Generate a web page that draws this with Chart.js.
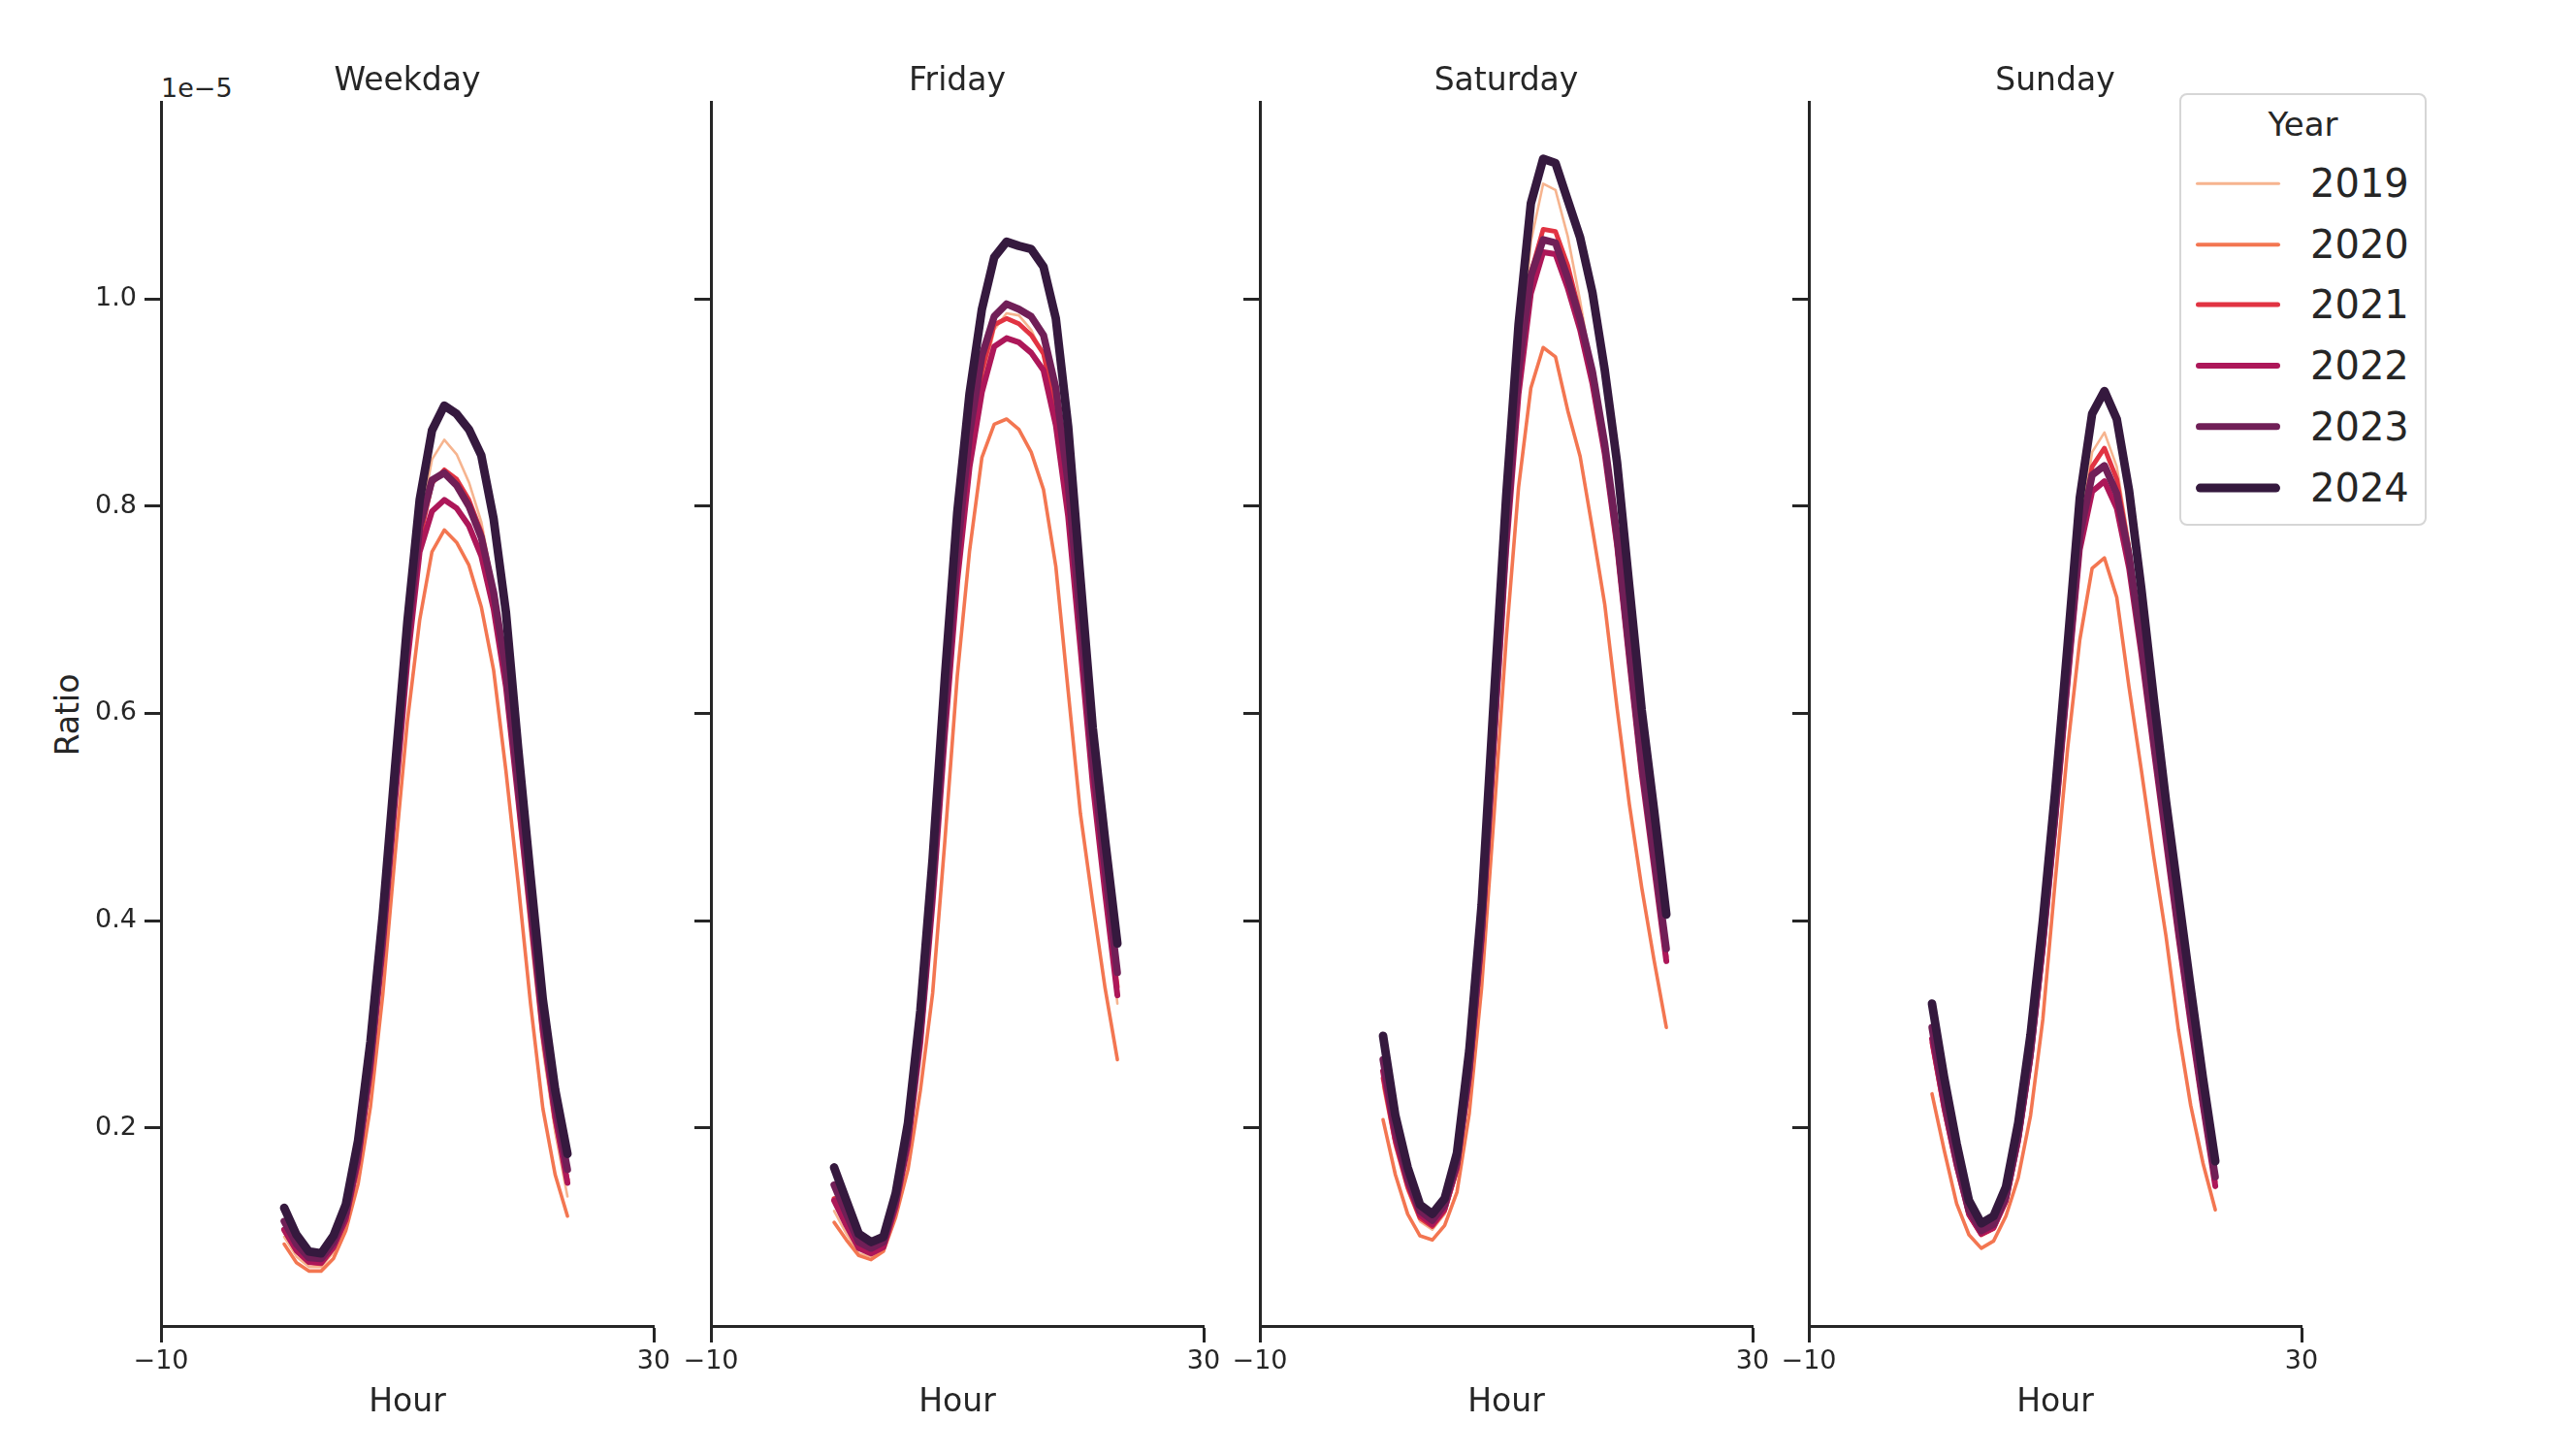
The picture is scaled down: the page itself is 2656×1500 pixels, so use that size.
<!DOCTYPE html>
<html lang="en">
<head>
    <meta charset="UTF-8">
    <title>Ratio by Hour and Year</title>
    <script src="https://cdn.jsdelivr.net/npm/chart.js"></script>
    <style>
        body { margin: 0; background: #fff; }
        #wrap { position: relative; width: 2656px; height: 1500px; font-family: 'DejaVu Sans', sans-serif; color: #262626; }
        #wrap canvas { position: absolute; left: 0; top: 0; }
        .txt { position: absolute; white-space: nowrap; line-height: 1; }
        .title, .xlabel { font-size: 33px; transform: translate(-50%, -50%); }
        #ylabel { font-size: 33px; left: 69px; top: 737px; transform: translate(-50%, -50%) rotate(-90deg); }
        #offset { font-size: 27px; left: 166px; top: 90px; transform: translateY(-50%); }
        #legend { position: absolute; left: 2247px; top: 96px; width: 251px; height: 442px; border: 2.5px solid #d6d6d6; border-radius: 8px; background: #fff; }
        #legend .head { position: absolute; left: 0; width: 100%; top: 13px; text-align: center; font-size: 34px; line-height: 1; }
        #legend .row { position: absolute; left: 0; width: 100%; height: 0; }
        #legend .sample { position: absolute; left: 15px; width: 87px; border-radius: 6px; transform: translateY(-50%); }
        #legend .lab { position: absolute; left: 133px; font-size: 40px; transform: translateY(-50%); line-height: 1; }
    </style>
</head>
<body>
<div id="wrap">
    <div id="ylabel" class="txt">Ratio</div>
    <div id="offset" class="txt">1e&minus;5</div>
    <div id="legend"><div class="head">Year</div></div>
</div>

<script>
    // hours of the day
    const hours = [0, 1, 2, 3, 4, 5, 6, 7, 8, 9, 10, 11, 12, 13, 14, 15, 16, 17, 18, 19, 20, 21, 22, 23];
    const years = ['2019', '2020', '2021', '2022', '2023', '2024'];
    const panels = ['Weekday', 'Friday', 'Saturday', 'Sunday'];

    // ratio values (x 1e-5), one row per year 2019..2024
    const weekday = [
        [0.095, 0.076, 0.066, 0.066, 0.080, 0.107, 0.160, 0.246, 0.366, 0.512, 0.655, 0.782, 0.845, 0.864, 0.850, 0.823, 0.785, 0.722, 0.632, 0.505, 0.385, 0.276, 0.196, 0.134],
        [0.088, 0.070, 0.062, 0.062, 0.074, 0.101, 0.146, 0.220, 0.328, 0.463, 0.592, 0.690, 0.756, 0.777, 0.765, 0.743, 0.703, 0.642, 0.545, 0.436, 0.320, 0.219, 0.155, 0.115],
        [0.101, 0.081, 0.070, 0.069, 0.084, 0.111, 0.166, 0.254, 0.373, 0.518, 0.657, 0.768, 0.822, 0.835, 0.826, 0.806, 0.775, 0.718, 0.636, 0.522, 0.405, 0.291, 0.208, 0.150],
        [0.102, 0.082, 0.071, 0.070, 0.085, 0.112, 0.168, 0.256, 0.373, 0.515, 0.650, 0.756, 0.795, 0.806, 0.798, 0.781, 0.752, 0.701, 0.626, 0.517, 0.406, 0.293, 0.211, 0.147],
        [0.110, 0.088, 0.075, 0.074, 0.090, 0.118, 0.176, 0.266, 0.386, 0.531, 0.670, 0.780, 0.825, 0.832, 0.820, 0.800, 0.770, 0.717, 0.642, 0.532, 0.421, 0.306, 0.223, 0.160],
        [0.123, 0.097, 0.081, 0.079, 0.096, 0.126, 0.188, 0.283, 0.405, 0.548, 0.688, 0.806, 0.873, 0.897, 0.889, 0.874, 0.849, 0.788, 0.698, 0.566, 0.443, 0.324, 0.237, 0.175]
    ];
    const friday = [
        [0.120, 0.098, 0.079, 0.076, 0.083, 0.121, 0.179, 0.275, 0.408, 0.570, 0.722, 0.840, 0.918, 0.970, 0.986, 0.984, 0.970, 0.945, 0.887, 0.793, 0.664, 0.536, 0.430, 0.320],
        [0.109, 0.092, 0.077, 0.073, 0.081, 0.114, 0.160, 0.236, 0.330, 0.478, 0.636, 0.757, 0.847, 0.879, 0.884, 0.874, 0.852, 0.816, 0.742, 0.622, 0.503, 0.417, 0.335, 0.266],
        [0.132, 0.108, 0.085, 0.080, 0.086, 0.125, 0.185, 0.284, 0.421, 0.586, 0.738, 0.852, 0.930, 0.975, 0.981, 0.976, 0.965, 0.947, 0.892, 0.800, 0.672, 0.542, 0.435, 0.336],
        [0.130, 0.106, 0.084, 0.079, 0.085, 0.124, 0.184, 0.282, 0.418, 0.580, 0.728, 0.838, 0.910, 0.954, 0.962, 0.958, 0.948, 0.931, 0.878, 0.790, 0.663, 0.532, 0.427, 0.328],
        [0.145, 0.117, 0.090, 0.084, 0.090, 0.130, 0.193, 0.295, 0.435, 0.602, 0.756, 0.870, 0.945, 0.983, 0.995, 0.990, 0.983, 0.965, 0.914, 0.822, 0.690, 0.555, 0.450, 0.350],
        [0.162, 0.130, 0.098, 0.090, 0.095, 0.137, 0.205, 0.313, 0.460, 0.636, 0.794, 0.909, 0.990, 1.040, 1.055, 1.051, 1.048, 1.031, 0.981, 0.877, 0.730, 0.586, 0.478, 0.378]
    ];
    const saturday = [
        [0.240, 0.181, 0.139, 0.110, 0.102, 0.117, 0.156, 0.243, 0.372, 0.560, 0.755, 0.925, 1.055, 1.111, 1.105, 1.060, 0.998, 0.928, 0.848, 0.757, 0.652, 0.547, 0.460, 0.370],
        [0.208, 0.155, 0.117, 0.096, 0.092, 0.106, 0.138, 0.214, 0.335, 0.500, 0.672, 0.818, 0.914, 0.953, 0.944, 0.892, 0.848, 0.778, 0.705, 0.605, 0.512, 0.432, 0.362, 0.297],
        [0.248, 0.186, 0.143, 0.113, 0.105, 0.120, 0.160, 0.248, 0.378, 0.568, 0.760, 0.918, 1.025, 1.067, 1.065, 1.032, 0.985, 0.925, 0.852, 0.760, 0.650, 0.543, 0.455, 0.365],
        [0.255, 0.190, 0.147, 0.116, 0.107, 0.122, 0.162, 0.250, 0.381, 0.570, 0.758, 0.908, 1.005, 1.045, 1.043, 1.010, 0.970, 0.918, 0.850, 0.762, 0.650, 0.542, 0.452, 0.361],
        [0.266, 0.198, 0.152, 0.120, 0.111, 0.126, 0.167, 0.258, 0.392, 0.585, 0.775, 0.930, 1.022, 1.057, 1.054, 1.020, 0.980, 0.930, 0.860, 0.772, 0.662, 0.553, 0.463, 0.373],
        [0.289, 0.212, 0.162, 0.126, 0.117, 0.132, 0.176, 0.275, 0.415, 0.615, 0.810, 0.975, 1.092, 1.135, 1.131, 1.095, 1.059, 1.006, 0.931, 0.842, 0.722, 0.603, 0.507, 0.406]
    ];
    const sunday = [
        [0.278, 0.214, 0.160, 0.114, 0.096, 0.102, 0.127, 0.184, 0.264, 0.370, 0.495, 0.633, 0.778, 0.852, 0.871, 0.838, 0.765, 0.670, 0.568, 0.472, 0.380, 0.295, 0.216, 0.142],
        [0.233, 0.178, 0.127, 0.097, 0.084, 0.091, 0.115, 0.152, 0.212, 0.305, 0.438, 0.565, 0.671, 0.740, 0.750, 0.712, 0.625, 0.545, 0.462, 0.385, 0.295, 0.222, 0.166, 0.121],
        [0.282, 0.217, 0.162, 0.116, 0.097, 0.103, 0.129, 0.186, 0.266, 0.372, 0.495, 0.630, 0.770, 0.838, 0.856, 0.826, 0.758, 0.668, 0.570, 0.477, 0.385, 0.300, 0.220, 0.148],
        [0.286, 0.220, 0.164, 0.117, 0.098, 0.104, 0.130, 0.188, 0.268, 0.374, 0.496, 0.628, 0.758, 0.814, 0.824, 0.798, 0.740, 0.657, 0.565, 0.475, 0.385, 0.300, 0.220, 0.144],
        [0.297, 0.228, 0.170, 0.121, 0.101, 0.107, 0.134, 0.193, 0.274, 0.382, 0.505, 0.640, 0.772, 0.830, 0.839, 0.812, 0.752, 0.668, 0.575, 0.485, 0.395, 0.310, 0.228, 0.153],
        [0.320, 0.248, 0.185, 0.130, 0.108, 0.115, 0.143, 0.205, 0.290, 0.400, 0.525, 0.665, 0.808, 0.889, 0.911, 0.884, 0.815, 0.720, 0.615, 0.515, 0.425, 0.335, 0.248, 0.168]
    ];
    const panelData = [weekday, friday, saturday, sunday];

    // axis ticks
    const xTicks = [-10, 30];
    const yTicks = [0.2, 0.4, 0.6, 0.8, 1.0];
    const xRange = [-10, 30];
    const yRange = [0.009, 1.19];

    // styling (rocket palette, thicker lines for later years)
    const colors = ['#f6b48f', '#f37651', '#e13342', '#ad1759', '#701f57', '#35193e'];
    const widths = [2.6, 3.6, 4.8, 6.0, 7.4, 8.8];
    const ink = '#262626';
    const font = "'DejaVu Sans', sans-serif";

    // layout in page pixels
    const W = 2656, H = 1500;
    const panelLeft = [166, 733, 1299, 1865];
    const panelWidth = 508;
    const plotTop = 105, plotBottom = 1367;
    const yAxisW = 150;

    const wrap = document.getElementById('wrap');

    panels.forEach((name, p) => {
        const canvas = document.createElement('canvas');
        canvas.width = W;
        canvas.height = H;
        wrap.appendChild(canvas);

        const left = panelLeft[p];
        const series = panelData[p];

        new Chart(canvas.getContext('2d'), {
            type: 'line',
            data: {
                datasets: years.map((yr, i) => ({
                    label: yr,
                    data: hours.map((h, k) => ({ x: h, y: series[i][k] })),
                    borderColor: colors[i],
                    borderWidth: widths[i],
                    borderCapStyle: 'round',
                    borderJoinStyle: 'round',
                    pointRadius: 0,
                    tension: 0,
                    fill: false,
                    order: years.length - 1 - i
                }))
            },
            options: {
                responsive: false,
                animation: false,
                events: [],
                layout: { padding: { left: left - yAxisW, right: W - left - panelWidth, top: plotTop, bottom: 0 } },
                plugins: { legend: { display: false }, tooltip: { enabled: false } },
                scales: {
                    x: {
                        type: 'linear',
                        min: xRange[0],
                        max: xRange[1],
                        afterBuildTicks: s => { s.ticks = xTicks.map(v => ({ value: v })); },
                        afterFit: s => { s.height = H - plotBottom; },
                        grid: { drawOnChartArea: false, drawTicks: true, tickLength: 17, tickWidth: 3, tickColor: ink },
                        border: { display: true, color: ink, width: 3 },
                        ticks: {
                            color: ink, padding: 4, maxRotation: 0, autoSkip: false,
                            font: { family: font, size: 27 },
                            callback: v => (v < 0 ? '\u2212' + Math.abs(v) : String(v))
                        }
                    },
                    y: {
                        type: 'linear',
                        min: yRange[0],
                        max: yRange[1],
                        afterBuildTicks: s => { s.ticks = yTicks.map(v => ({ value: v })); },
                        afterFit: s => { s.width = yAxisW; },
                        grid: { drawOnChartArea: false, drawTicks: true, tickLength: 17, tickWidth: 3, tickColor: ink },
                        border: { display: true, color: ink, width: 3 },
                        ticks: {
                            display: p === 0,
                            color: ink, padding: 8, autoSkip: false,
                            font: { family: font, size: 27 },
                            callback: v => v.toFixed(1)
                        }
                    }
                }
            }
        });

        // panel title and x label
        const title = document.createElement('div');
        title.className = 'txt title';
        title.textContent = name;
        title.style.left = (left + panelWidth / 2) + 'px';
        title.style.top = '81px';
        wrap.appendChild(title);

        const xl = document.createElement('div');
        xl.className = 'txt xlabel';
        xl.textContent = 'Hour';
        xl.style.left = (left + panelWidth / 2) + 'px';
        xl.style.top = '1443px';
        wrap.appendChild(xl);
    });

    // legend
    const legend = document.getElementById('legend');
    const rowTops = [91, 154, 216, 279, 342, 405];
    years.forEach((yr, i) => {
        const row = document.createElement('div');
        row.className = 'row';
        row.style.top = rowTops[i] + 'px';
        const sample = document.createElement('div');
        sample.className = 'sample';
        sample.style.height = widths[i] + 'px';
        sample.style.background = colors[i];
        const lab = document.createElement('div');
        lab.className = 'lab';
        lab.textContent = yr;
        row.appendChild(sample);
        row.appendChild(lab);
        legend.appendChild(row);
    });
</script>
</body>
</html>
